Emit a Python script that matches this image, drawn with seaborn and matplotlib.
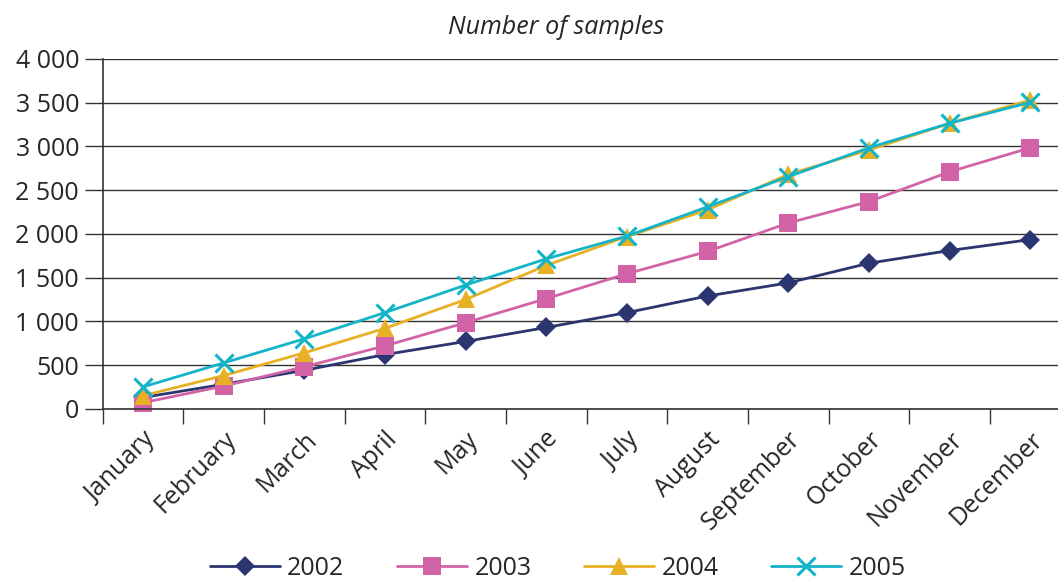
import numpy as np
import pandas as pd
import seaborn as sns
import matplotlib.pyplot as plt
import matplotlib.transforms as mtransforms
from matplotlib.ticker import FixedLocator, FuncFormatter

sns.set_style('white')
plt.rcParams['font.family'] = ['Open Sans', 'DejaVu Sans']

months = ['January', 'February', 'March', 'April', 'May', 'June', 'July',
          'August', 'September', 'October', 'November', 'December']
years = ['2002', '2003', '2004', '2005']

s2002 = [130, 280, 440, 620, 770, 930, 1100, 1290, 1440, 1665, 1810, 1935]
s2003 = [70, 260, 480, 720, 985, 1260, 1545, 1800, 2125, 2370, 2710, 2985]
s2004 = [150, 380, 640, 920, 1250, 1640, 1970, 2275, 2680, 2960, 3265, 3530]
s2005 = [250, 525, 800, 1100, 1415, 1715, 1975, 2310, 2655, 2985, 3265, 3505]

colors = ['#2b3570', '#d163a6', '#e8b024', '#14b4c8']
markers = ['D', 's', '^', 'x']
msizes = [10, 13, 13, 13]

df = pd.DataFrame({
    'month': np.tile(np.arange(len(months)), 4),
    'value': s2002 + s2003 + s2004 + s2005,
    'year': np.repeat(years, len(months)),
})

fig, ax = plt.subplots(figsize=(10.58, 5.84), dpi=100)
# the plot area runs a bit past the right edge, as in the original
fig.subplots_adjust(left=0.097, right=1.012, top=0.899, bottom=0.30)

for yr, c, m, ms in zip(years, colors, markers, msizes):
    sub = df[df['year'] == yr]
    sns.lineplot(data=sub, x='month', y='value', ax=ax, color=c, marker=m,
                 markersize=ms, markeredgecolor=c,
                 markeredgewidth=2.2 if m == 'x' else 0,
                 linewidth=2, label=yr, clip_on=False)

ax.set_xlim(-0.5, 11.5)
ax.set_ylim(0, 4000)
ax.set_yticks(np.arange(0, 4001, 500))
ax.yaxis.set_major_formatter(FuncFormatter(lambda v, p: f'{int(v):,}'.replace(',', ' ')))
ax.grid(axis='y', color='#333333', linewidth=1)
ax.set_axisbelow(True)

ax.set_xticks(np.arange(len(months)))
ax.set_xticklabels(months, rotation=45, ha='right', rotation_mode='anchor')
shift = mtransforms.ScaledTranslation(8 / 100, 0, fig.dpi_scale_trans)
for lab in ax.get_xticklabels():
    lab.set_transform(lab.get_transform() + shift)
ax.xaxis.set_minor_locator(FixedLocator(np.arange(-0.5, 12, 1)))
ax.tick_params(axis='x', which='major', length=0, pad=13, labelsize=18)
ax.tick_params(axis='x', which='minor', length=11, width=1, color='#333333',
               direction='out', bottom=True)
ax.tick_params(axis='y', length=13, width=1, color='#333333', direction='out',
               left=True, labelsize=18, pad=4)

for side in ['top', 'right']:
    ax.spines[side].set_visible(False)
for side in ['left', 'bottom']:
    ax.spines[side].set_color('#333333')
    ax.spines[side].set_linewidth(1.2)

ax.set_xlabel('')
ax.set_ylabel('')
fig.text(0.526, 0.953, 'Number of samples', fontsize=18, fontstyle='italic',
         ha='center', va='center')

ax.legend(loc='center', bbox_to_anchor=(0.527, 0.027), bbox_transform=fig.transFigure,
          ncol=4, frameon=False, fontsize=18, handlelength=2.8, columnspacing=2.1,
          handletextpad=0.3, borderpad=0.2)

fig.savefig('out.png', dpi=100)
